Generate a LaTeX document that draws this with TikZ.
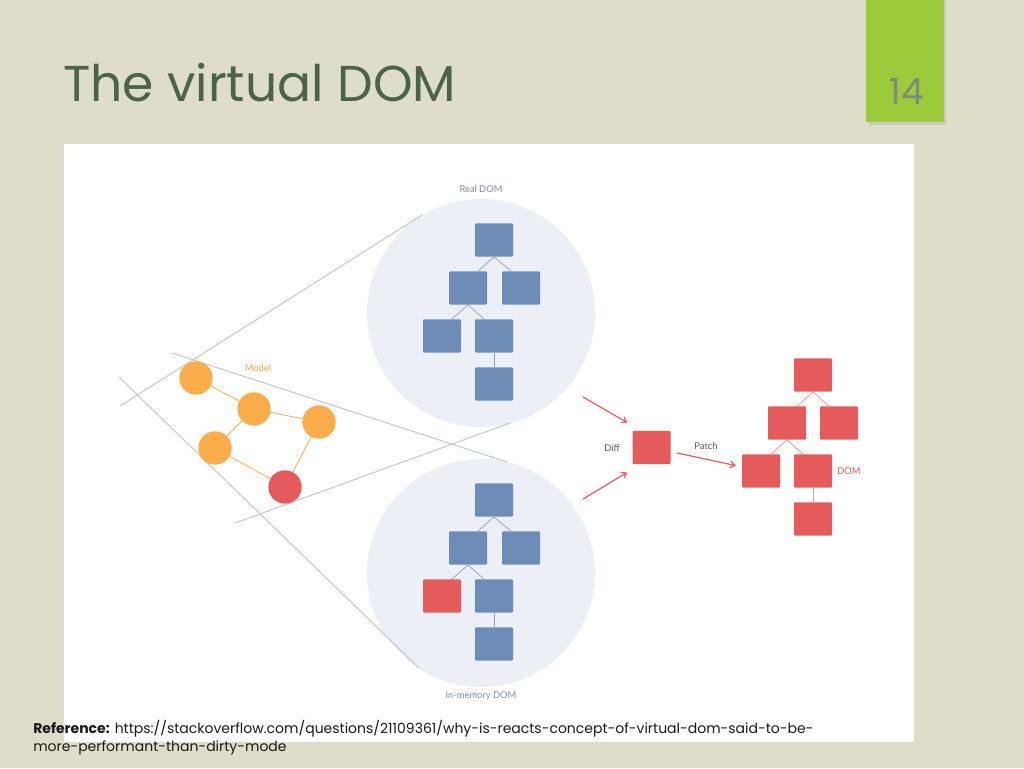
\documentclass[tikz,border=0pt]{standalone}
\usepackage{fontspec}
\setmainfont{Poppins}
\newfontfamily\labfont{Lato}
\usetikzlibrary{arrows.meta}
\definecolor{bgbeige}{HTML}{DEDDC9}
\definecolor{numgreen}{HTML}{9BCB3B}
\definecolor{titlegreen}{HTML}{4B6447}
\definecolor{numgray}{HTML}{7E8A7C}
\definecolor{circfill}{HTML}{ECEFF5}
\definecolor{boxblue}{HTML}{6E8CB8}
\definecolor{boxred}{HTML}{E55A5A}
\definecolor{linered}{HTML}{F0908A}
\definecolor{modelorange}{HTML}{FBAD4B}
\definecolor{projgray}{HTML}{C9C9C9}
\definecolor{treeline}{HTML}{95A3BA}
\definecolor{labblue}{HTML}{7F8FA6}
\definecolor{labdark}{HTML}{555555}
\tikzset{
  bluebox/.style={rectangle, fill=boxblue, minimum width=28.5pt, minimum height=25pt, rounded corners=0.8pt, inner sep=0pt},
  redbox/.style={bluebox, fill=boxred},
  mnode/.style={circle, fill=modelorange, minimum size=25pt, inner sep=0pt},
  tline/.style={draw=treeline, line width=0.55pt},
  rline/.style={draw=linered, line width=0.55pt},
  mline/.style={draw=modelorange, line width=0.6pt},
  proj/.style={draw=projgray, line width=0.8pt},
  arr/.style={draw=boxred, line width=0.9pt, -{Straight Barb[length=3.5pt,width=5pt]}},
  lab/.style={font=\labfont\fontsize{7}{8}\selectfont, inner sep=0pt},
}
\begin{document}
\begin{tikzpicture}[x=0.75pt, y=-0.75pt]
\useasboundingbox (0,0) rectangle (1024,768);
\fill[bgbeige] (0,0) rectangle (1024,768);
% slide number tab
\fill[black!25, opacity=0.6] (869,0) rectangle (946,125);
\fill[numgreen] (866,0) rectangle (944,122);
\node[text=numgray, font=\fontsize{27}{30}\selectfont, inner sep=0pt] (num) at (907,91) {14};
% title
\node[anchor=base west, text=titlegreen, font=\fontsize{37.8}{42}\selectfont, inner sep=0pt] (title) at (63,101) {The virtual DOM};
% white panel
\fill[white] (64,144) rectangle (914,742);
% circles
\node[circle, fill=circfill, minimum size=171pt, inner sep=0pt] (realc) at (481,313) {};
\node[circle, fill=circfill, minimum size=171pt, inner sep=0pt] (memc) at (481,573) {};
% projection lines
\coordinate (p1a) at (120,406); \coordinate (p1b) at (422,215);
\coordinate (p2a) at (172,353); \coordinate (p2b) at (507,462);
\coordinate (p3a) at (119,377); \coordinate (p3b) at (419,668);
\coordinate (p4a) at (235,523); \coordinate (p4b) at (510,423);
\draw[proj] (p1a) -- (p1b);
\draw[proj] (p2a) -- (p2b);
\draw[proj] (p3a) -- (p3b);
\draw[proj] (p4a) -- (p4b);
% labels
\node[lab, text=labblue] (lreal) at (481,189) {Real DOM};
\node[lab, text=labblue] (lmem) at (481,696) {In-memory DOM};
\node[lab, text=modelorange!95!black] (lmodel) at (258,368) {Model};
\node[lab, text=labdark] (ldiff) at (612,448) {Diff};
\node[lab, text=labdark] (lpatch) at (706,446) {Patch};
\node[lab, text=boxred] (ldom) at (849,471) {DOM};
% model graph
\node[mnode] (c1) at (196,378) {};
\node[mnode] (c2) at (254,409) {};
\node[mnode] (c3) at (319,422) {};
\node[mnode] (c4) at (215,448) {};
\node[mnode, fill=boxred] (c5) at (285,487) {};
\draw[mline] (c1) -- (c2);
\draw[mline] (c2) -- (c3);
\draw[mline] (c2) -- (c4);
\draw[mline] (c4) -- (c5);
\draw[mline] (c3) -- (c5);
% real DOM tree
\node[bluebox] (r1) at (494,240) {};
\node[bluebox] (r2) at (468,288) {};
\node[bluebox] (r3) at (521,288) {};
\node[bluebox] (r4) at (442,336) {};
\node[bluebox] (r5) at (494,336) {};
\node[bluebox] (r6) at (494,384) {};
\draw[tline] (r1.south) -- ([xshift=7.5pt]r2.north);
\draw[tline] (r1.south) -- ([xshift=-7.5pt]r3.north);
\draw[tline] (r2.south) -- ([xshift=7.5pt]r4.north);
\draw[tline] (r2.south) -- ([xshift=-7.5pt]r5.north);
\draw[tline] (r5.south) -- (r6.north);
% in-memory tree
\node[bluebox] (m1) at (494,500) {};
\node[bluebox] (m2) at (468,548) {};
\node[bluebox] (m3) at (521,548) {};
\node[redbox] (m4) at (442,596) {};
\node[bluebox] (m5) at (494,596) {};
\node[bluebox] (m6) at (494,644) {};
\draw[tline] (m1.south) -- ([xshift=7.5pt]m2.north);
\draw[tline] (m1.south) -- ([xshift=-7.5pt]m3.north);
\draw[tline] (m2.south) -- ([xshift=7.5pt]m4.north);
\draw[tline] (m2.south) -- ([xshift=-7.5pt]m5.north);
\draw[tline] (m5.south) -- (m6.north);
% diff box
\node[redbox] (diff) at (651.5,447.5) {};
% resulting DOM tree
\node[redbox] (d1) at (813,375) {};
\node[redbox] (d2) at (787,423) {};
\node[redbox] (d3) at (839,423) {};
\node[redbox] (d4) at (761,471) {};
\node[redbox] (d5) at (813,471) {};
\node[redbox] (d6) at (813,519) {};
\draw[rline] (d1.south) -- ([xshift=7.5pt]d2.north);
\draw[rline] (d1.south) -- ([xshift=-7.5pt]d3.north);
\draw[rline] (d2.south) -- ([xshift=7.5pt]d4.north);
\draw[rline] (d2.south) -- ([xshift=-7.5pt]d5.north);
\draw[rline] (d5.south) -- (d6.north);
% arrows
\coordinate (a1) at (583,397);
\coordinate (a2) at (583,499);
\draw[arr] (a1) -- ([shift={(-3.75pt,6pt)}]diff.north west);
\draw[arr] (a2) -- ([shift={(-3.75pt,-6pt)}]diff.south west);
\draw[arr, shorten <=5pt, shorten >=4.5pt] (diff) -- (d4);
% reference
\node[anchor=base west, inner sep=0pt, align=left, text=black!90, font=\fontsize{10.5}{13.5}\selectfont] (ref) at (33,751)
  {\textbf{Reference:} https://stackoverflow.com/questions/21109361/why-is-reacts-concept-of-virtual-dom-said-to-be-\\more-performant-than-dirty-mode};
\end{tikzpicture}
\end{document}
